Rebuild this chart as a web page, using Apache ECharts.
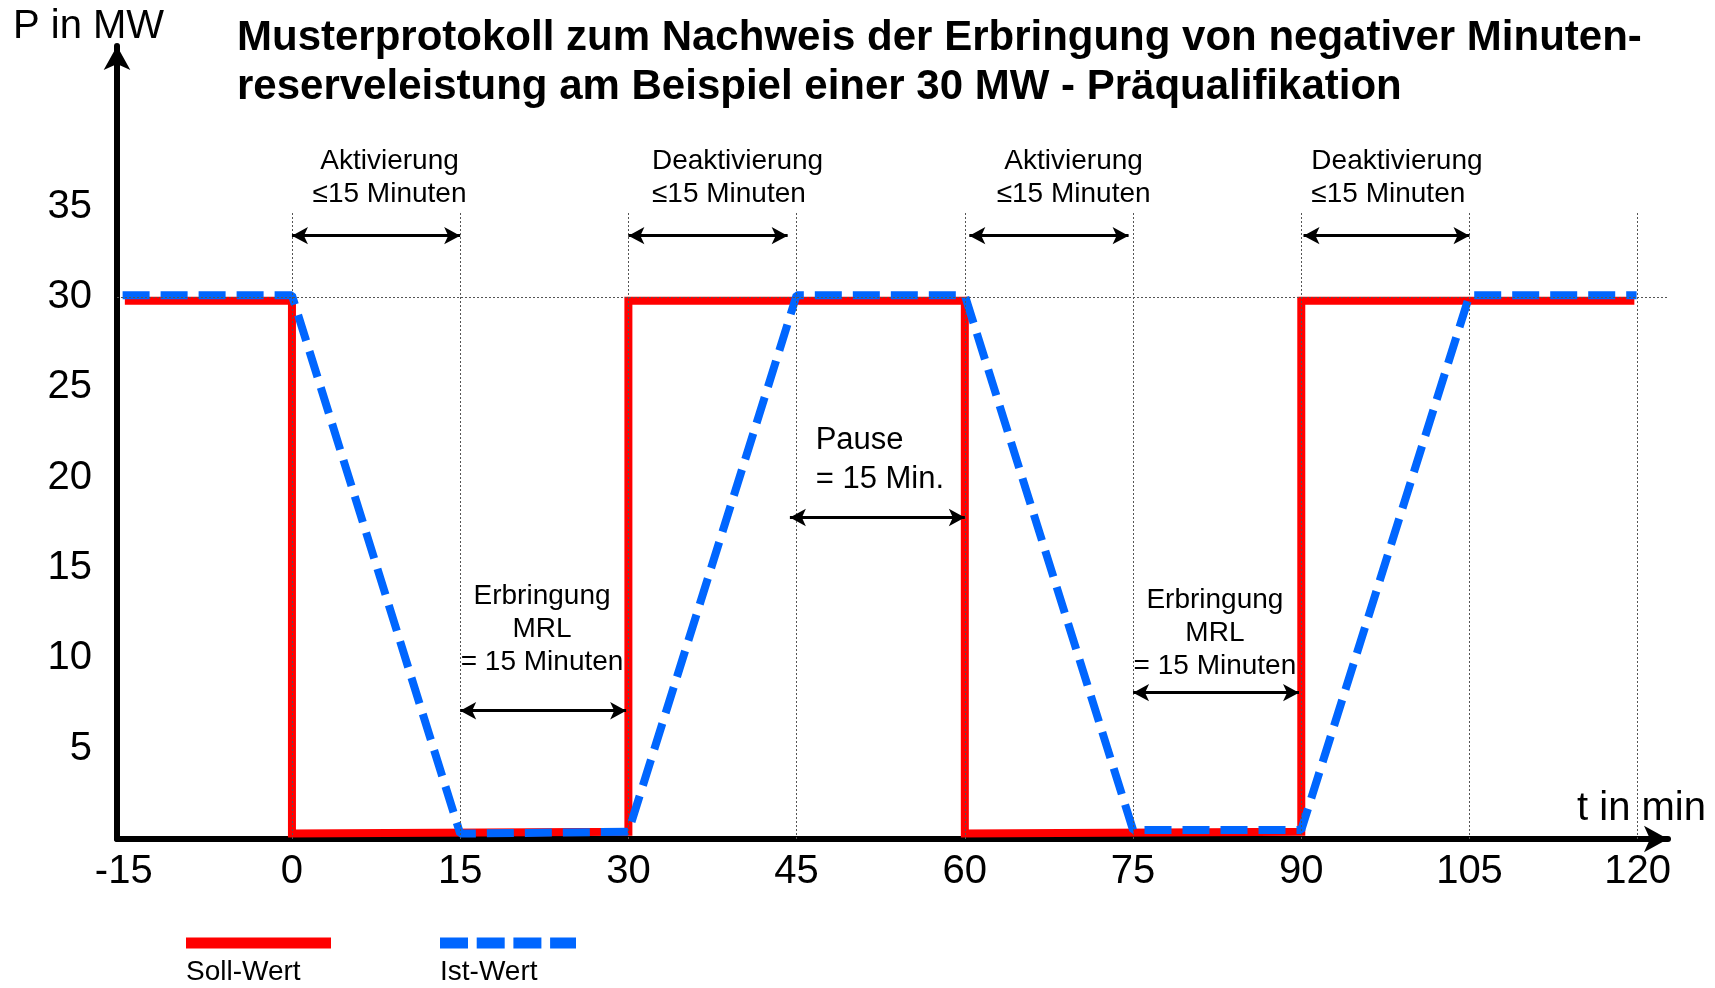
<!DOCTYPE html>
<html>
<head>
<meta charset="utf-8">
<script src="https://cdn.jsdelivr.net/npm/echarts@6/dist/echarts.min.js"></script>
<style>
  html, body { margin: 0; background: #fff; }
  #chart { width: 1715px; height: 988px; }
</style>
</head>
<body>
<div id="chart"></div>
<script>
// Achsen (t in min, P in MW)
const xTicks = [-15, 0, 15, 30, 45, 60, 75, 90, 105, 120];
const yTicks = [5, 10, 15, 20, 25, 30, 35];
const gridT = [0, 15, 30, 45, 60, 75, 90, 105, 120];

// Soll-Wert
const sollT = [-14.9, 0, 0, 30, 30, 60, 60, 90, 90, 119.7];
const sollP = [29.8, 29.8, 0.3, 0.4, 29.8, 29.8, 0.3, 0.4, 29.8, 29.8];

// Ist-Wert
const istT = [-15.1, 0, 15, 30, 45, 60, 75, 90, 105, 119.9];
const istP = [30.1, 30.1, 0.3, 0.4, 30.1, 30.1, 0.5, 0.5, 30.1, 30.1];

// Doppelpfeile: von, bis, Höhe
const spanFrom = [0, 30, 60.4, 90.2, 44.4, 15, 75];
const spanTo = [15, 44.2, 74.6, 105, 60, 29.8, 89.8];
const spanAt = [33.4, 33.4, 33.4, 33.4, 17.8, 7.1, 8.1];

// Beschriftungen
const noteText = [
  'Aktivierung\n≤15 Minuten',
  'Deaktivierung\n≤15 Minuten',
  'Aktivierung\n≤15 Minuten',
  'Deaktivierung\n≤15 Minuten',
  'Pause\n= 15 Min.',
  'Erbringung\nMRL\n= 15 Minuten',
  'Erbringung\nMRL\n= 15 Minuten'
];
const noteT = [8.7, 32.1, 69.7, 90.9, 46.7, 22.3, 82.3];
const noteP = [36.6, 36.6, 36.6, 36.6, 21.0, 11.6, 11.4];
const noteAlign = ['center', 'left', 'center', 'left', 'left', 'center', 'center'];

const FONT = 'Liberation Sans';
const BLUE = '#0066ff';
const RED = '#ff0000';

const chart = echarts.init(document.getElementById('chart'));

const option = {
  animation: false,
  backgroundColor: '#fff',
  textStyle: { fontFamily: FONT, color: '#000' },
  title: {
    text: 'Musterprotokoll zum Nachweis der Erbringung von negativer Minuten-\nreserveleistung am Beispiel einer 30 MW - Präqualifikation',
    left: 237,
    top: 14,
    padding: 0,
    textStyle: { fontFamily: FONT, fontSize: 42, fontWeight: 'bold', color: '#000', lineHeight: 49 }
  },
  grid: { left: 117, right: 47, top: 46, bottom: 149 },
  xAxis: {
    type: 'value',
    min: -15.6,
    max: 122.7,
    splitLine: { show: false },
    axisTick: { show: false },
    axisLine: {
      lineStyle: { color: '#000', width: 6 },
      symbol: ['none', 'arrow'],
      symbolSize: [20, 24]
    },
    axisLabel: {
      customValues: xTicks,
      fontSize: 40,
      color: '#000',
      fontFamily: FONT,
      margin: 13
    }
  },
  yAxis: {
    type: 'value',
    min: 0,
    max: 43.9,
    splitLine: { show: false },
    axisTick: { show: false },
    axisLine: {
      onZero: false,
      lineStyle: { color: '#000', width: 6 },
      symbol: ['none', 'arrow'],
      symbolSize: [20, 24]
    },
    axisLabel: {
      customValues: yTicks,
      fontSize: 40,
      color: '#000',
      fontFamily: FONT,
      margin: 25
    }
  },
  graphic: [
    { type: 'text', left: 13, top: 7, style: { text: 'P in MW', fontSize: 40, fontFamily: FONT, fill: '#000' } },
    { type: 'text', right: 9, top: 789, style: { text: 't in min', fontSize: 40, fontFamily: FONT, fill: '#000' } },
    { type: 'line', shape: { x1: 186, y1: 943, x2: 331, y2: 943 }, style: { stroke: RED, lineWidth: 11 } },
    { type: 'line', shape: { x1: 440, y1: 943, x2: 576, y2: 943 }, style: { stroke: BLUE, lineWidth: 11, lineDash: [28, 8.7] } },
    { type: 'text', left: 186, top: 958, style: { text: 'Soll-Wert', fontSize: 28, fontFamily: FONT, fill: '#000' } },
    { type: 'text', left: 440, top: 958, style: { text: 'Ist-Wert', fontSize: 28, fontFamily: FONT, fill: '#000' } }
  ],
  series: [
    {
      // Hilfslinien
      type: 'line',
      data: [],
      z: 1,
      silent: true,
      markLine: {
        silent: true,
        symbol: 'none',
        label: { show: false },
        lineStyle: { color: '#555', width: 1, type: [2, 2] },
        data: [{ yAxis: 30 }].concat(gridT.map(t => [{ coord: [t, 0] }, { coord: [t, 34.7] }]))
      }
    },
    {
      // Pfeile und Beschriftungen
      type: 'line',
      data: [],
      z: 5,
      silent: true,
      markLine: {
        silent: true,
        symbol: ['arrow', 'arrow'],
        symbolSize: [13, 16],
        label: { show: false },
        lineStyle: { color: '#000', width: 3, type: 'solid' },
        data: spanFrom.map((a, i) => [{ coord: [a, spanAt[i]] }, { coord: [spanTo[i], spanAt[i]] }])
      },
      markPoint: {
        silent: true,
        symbolSize: 0,
        data: noteText.map((s, i) => ({
          coord: [noteT[i], noteP[i]],
          label: {
            show: true,
            position: 'inside',
            formatter: s,
            align: noteAlign[i],
            fontSize: i === 4 ? 31 : 28,
            lineHeight: i === 4 ? 39 : 33,
            fontFamily: FONT,
            color: '#000'
          }
        }))
      }
    },
    {
      name: 'Soll-Wert',
      type: 'line',
      data: sollT.map((t, i) => [t, sollP[i]]),
      showSymbol: false,
      z: 3,
      lineStyle: { color: RED, width: 8, join: 'miter' }
    },
    {
      name: 'Ist-Wert',
      type: 'line',
      data: istT.map((t, i) => [t, istP[i]]),
      showSymbol: false,
      z: 4,
      lineStyle: { color: BLUE, width: 8, type: [27, 11] }
    }
  ]
};

chart.setOption(option);
</script>
</body>
</html>
